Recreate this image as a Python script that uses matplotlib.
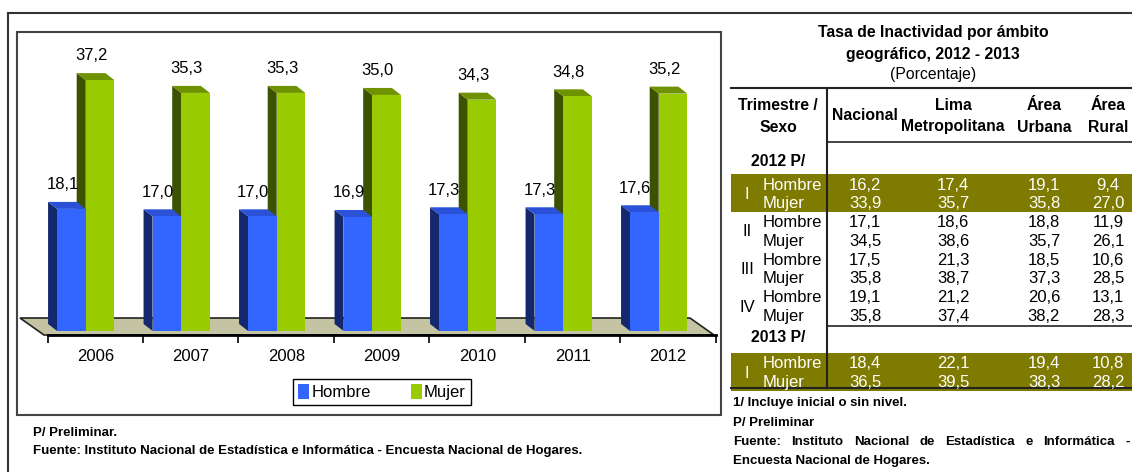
import numpy as np
import matplotlib
matplotlib.use("Agg")
from matplotlib import pyplot as plt
from matplotlib.patches import Polygon, Rectangle, Patch

plt.rcParams['font.family'] = ['Liberation Sans', 'DejaVu Sans']

# datos del grafico
years = ['2006', '2007', '2008', '2009', '2010', '2011', '2012']
hombre = [18.1, 17.0, 17.0, 16.9, 17.3, 17.3, 17.6]
mujer = [37.2, 35.3, 35.3, 35.0, 34.3, 34.8, 35.2]

# datos de la tabla (Nacional, Lima Metropolitana, Area Urbana, Area Rural)
table_cols = [['Nacional'], ['Lima', 'Metropolitana'], ['Área', 'Urbana'], ['Área', 'Rural']]
quarters_2012 = ['I', 'II', 'III', 'IV']
hombre_2012 = [[16.2, 17.4, 19.1, 9.4],
               [17.1, 18.6, 18.8, 11.9],
               [17.5, 21.3, 18.5, 10.6],
               [19.1, 21.2, 20.6, 13.1]]
mujer_2012 = [[33.9, 35.7, 35.8, 27.0],
              [34.5, 38.6, 35.7, 26.1],
              [35.8, 38.7, 37.3, 28.5],
              [35.8, 37.4, 38.2, 28.3]]
quarters_2013 = ['I']
hombre_2013 = [[18.4, 22.1, 19.4, 10.8]]
mujer_2013 = [[36.5, 39.5, 38.3, 28.2]]

W, H = 1132, 472
BLUE, BLUE_SIDE, BLUE_TOP = '#3366ff', '#14286e', '#2b52d6'
GREEN, GREEN_SIDE, GREEN_TOP = '#99cc00', '#3d5200', '#6f9300'
OLIVE = '#7f7a00'
FS = 12     # texto normal
FSB = 11.3  # encabezados
FSN = 9.5   # notas


def fmt(v):
    return f"{v:.1f}".replace('.', ',')


def px_rect(x0, y0, x1, y1):
    return [x0 / W, 1 - y1 / H, (x1 - x0) / W, (y1 - y0) / H]


fig = plt.figure(figsize=(W / 100, H / 100), dpi=100)

# capa de fondo en pixeles (marcos, piso, tabla)
bg = fig.add_axes([0, 0, 1, 1], zorder=0)
bg.set_xlim(0, W)
bg.set_ylim(H, 0)
bg.axis('off')

bg.plot([8, W], [13, 13], color='#333333', lw=1.5)
bg.plot([8, 8], [13, H], color='#333333', lw=1.5)
bg.add_patch(Rectangle((17, 32), 704, 383, fill=False, ec='#444444', lw=1.5))

# piso 3D
bg.add_patch(Polygon([(20, 318), (690, 318), (714, 335), (44, 335)],
                     closed=True, fc='#c4c4a2', ec='#222222', lw=1.2))

# grafico de barras
ax = fig.add_axes(px_rect(47.5, 41, 716, 335), zorder=1)
ax.patch.set_alpha(0)
ax.set_xlim(-0.5, len(years) - 0.5)
ax.set_ylim(-0.6, 43)
for s in ['top', 'left', 'right']:
    ax.spines[s].set_visible(False)
ax.spines['bottom'].set_linewidth(2)
ax.set_yticks([])
ax.set_xticks(np.arange(-0.5, len(years), 1))
ax.set_xticklabels([])
ax.set_xticks(np.arange(len(years)), minor=True)
ax.set_xticklabels(years, minor=True, fontsize=FS)
ax.tick_params(which='major', length=6, width=1.2, direction='out')
ax.tick_params(which='minor', length=0, pad=10)

# profundidad en unidades de datos (9 px izq, 7 px arriba)
ppx = ax.get_position().width * W / (len(years))
ppy = ax.get_position().height * H / (43 + 0.6)
ddx, ddy = -9 / ppx, 7 / ppy
bw = 0.30


def bar3d(x0, h, front, side, top, z):
    ax.add_patch(Polygon([(x0, 0), (x0, h), (x0 + ddx, h + ddy), (x0 + ddx, ddy)],
                         closed=True, fc=side, ec='none', zorder=z))
    ax.add_patch(Polygon([(x0, h), (x0 + bw, h), (x0 + bw + ddx, h + ddy), (x0 + ddx, h + ddy)],
                         closed=True, fc=top, ec='none', zorder=z))
    ax.bar(x0, h, width=bw, align='edge', color=front, ec='none', zorder=z + 0.5)
    ax.annotate(fmt(h), (x0 + bw / 2 + ddx, h + ddy), xytext=(0, 7),
                textcoords='offset points', ha='center', va='bottom',
                fontsize=FS, annotation_clip=False)


x = np.arange(len(years))
for i in range(len(years)):
    bar3d(x[i] - 0.10, mujer[i], GREEN, GREEN_SIDE, GREEN_TOP, 2)
    bar3d(x[i] - 0.40, hombre[i], BLUE, BLUE_SIDE, BLUE_TOP, 3)

leg = fig.legend(handles=[Patch(fc=BLUE, label='Hombre'), Patch(fc=GREEN, label='Mujer')],
                 loc='center', bbox_to_anchor=(382 / W, 1 - 392 / H), ncol=2,
                 fancybox=False, edgecolor='black', framealpha=1, fontsize=FS,
                 handlelength=0.65, handleheight=1.0, handletextpad=0.15,
                 columnspacing=2.4, borderpad=0.3)
leg.get_frame().set_linewidth(1.0)

bg.text(33, 433, 'P/ Preliminar.', fontsize=FSN, fontweight='bold', va='center')
bg.text(33, 451, 'Fuente: Instituto Nacional de Estadística e Informática - Encuesta Nacional de Hogares.',
        fontsize=FSN, fontweight='bold', va='center')

# tabla
bg.text(933, 32, 'Tasa de Inactividad por ámbito', fontsize=FSB, fontweight='bold', ha='center', va='center')
bg.text(933, 54, 'geográfico, 2012 - 2013', fontsize=FSB, fontweight='bold', ha='center', va='center')
bg.text(933, 74, '(Porcentaje)', fontsize=FSB, ha='center', va='center')

col_x = [865, 953, 1044, 1108]
bg.plot([731, W], [88, 88], color='#222222', lw=1.5)
bg.plot([827, 827], [88, 388], color='#222222', lw=1.5)
bg.plot([827, W], [142, 142], color='#222222', lw=1.2)
bg.plot([827, W], [326, 326], color='#222222', lw=1.2)

bg.text(778, 105, 'Trimestre /', fontsize=FSB, fontweight='bold', ha='center', va='center')
bg.text(778, 127, 'Sexo', fontsize=FSB, fontweight='bold', ha='center', va='center')
for cx, lines in zip(col_x, table_cols):
    ys = [116] if len(lines) == 1 else [105, 127]
    for yy, t in zip(ys, lines):
        bg.text(cx, yy, t, fontsize=FSB, fontweight='bold', ha='center', va='center')


def table_block(title, title_y, first_y, quarters, hv, mv, band_first):
    bg.text(778, title_y, title, fontsize=FSB, fontweight='bold', ha='center', va='center')
    for k, q in enumerate(quarters):
        yh = first_y + 37.6 * k
        ym = yh + 18.5
        c = 'black'
        if k == 0 and band_first:
            bg.add_patch(Rectangle((731, yh - 11), W - 731, 38, fc=OLIVE, ec='none'))
            c = 'white'
        bg.text(747, (yh + ym) / 2, q, fontsize=FS, ha='center', va='center', color=c)
        bg.text(763, yh, 'Hombre', fontsize=FS, va='center', color=c)
        bg.text(763, ym, 'Mujer', fontsize=FS, va='center', color=c)
        for cx, vh, vm in zip(col_x, hv[k], mv[k]):
            bg.text(cx, yh, fmt(vh), fontsize=FS, ha='center', va='center', color=c)
            bg.text(cx, ym, fmt(vm), fontsize=FS, ha='center', va='center', color=c)


table_block('2012 P/', 162, 185, quarters_2012, hombre_2012, mujer_2012, True)
table_block('2013 P/', 338, 364, quarters_2013, hombre_2013, mujer_2013, True)
bg.plot([731, W], [388, 388], color='#222222', lw=1.5)

bg.text(733, 403, '1/ Incluye inicial o sin nivel.', fontsize=FSN, fontweight='bold', va='center')
bg.text(733, 423, 'P/ Preliminar', fontsize=FSN, fontweight='bold', va='center')
bg.text(733, 461, 'Encuesta Nacional de Hogares.', fontsize=FSN, fontweight='bold', va='center')

# linea justificada
words = 'Fuente: Instituto Nacional de Estadística e Informática -'.split()
renderer = fig.canvas.get_renderer()
objs = [bg.text(0, 442, w, fontsize=FSN, fontweight='bold', va='center') for w in words]
widths = [o.get_window_extent(renderer).width for o in objs]
gap = (W - 2 - 733 - sum(widths)) / (len(words) - 1)
xx = 733
for o, wd in zip(objs, widths):
    o.set_x(xx)
    xx += wd + gap

fig.savefig('out.png', dpi=100)
